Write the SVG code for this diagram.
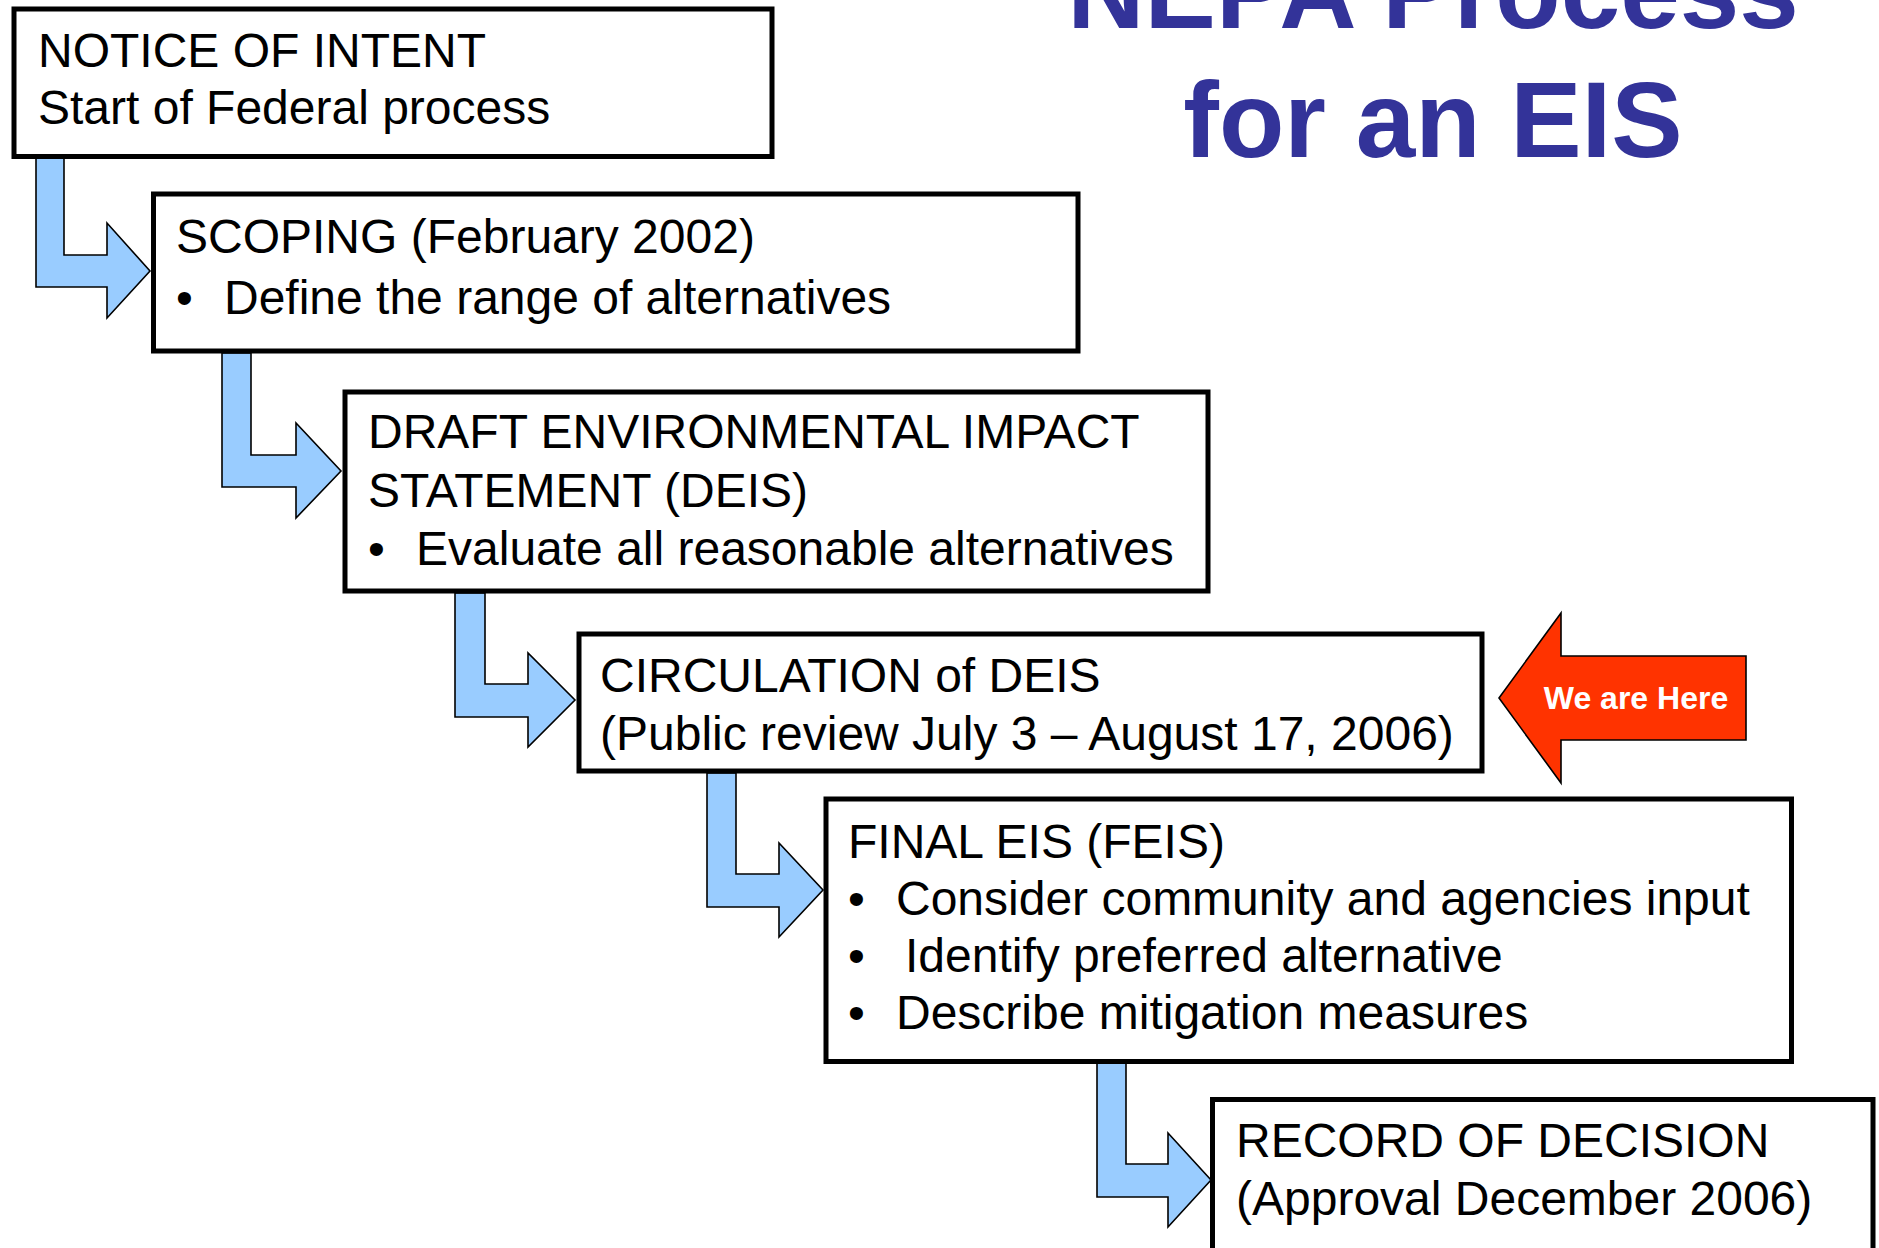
<svg xmlns="http://www.w3.org/2000/svg" width="1879" height="1248" viewBox="0 0 1879 1248">
<style>
.box{fill:#fff;stroke:#000;stroke-width:5}
.t{font-family:"Liberation Sans",Arial,sans-serif;font-size:48px;fill:#000}
.flow{fill:#99CCFF;stroke:#000;stroke-width:1.6;stroke-linejoin:miter}
.title{font-family:"Liberation Sans",Arial,sans-serif;font-size:107px;font-weight:bold;fill:#333399;text-anchor:middle}
</style>
<rect width="1879" height="1248" fill="#fff"/>
<g id="title">
<text class="title" x="1433" y="28">NEPA Process</text>
<text class="title" x="1433" y="157">for an EIS</text>
</g>
<g id="connectors">
<path class="flow" d="M36,157 L64,157 L64,255 L107,255 L107,223 L150,271 L107,318 L107,287 L36,287 Z"/>
<path class="flow" d="M222,353 L251,353 L251,455 L296,455 L296,423 L341,471 L296,518 L296,487 L222,487 Z"/>
<path class="flow" d="M455,593 L485,593 L485,684 L528,684 L528,653 L575,700 L528,747 L528,717 L455,717 Z"/>
<path class="flow" d="M707,773 L736,773 L736,874 L779,874 L779,843 L823,890 L779,937 L779,907 L707,907 Z"/>
<path class="flow" d="M1097,1062 L1126,1062 L1126,1164 L1168,1164 L1168,1133 L1211,1180 L1168,1227 L1168,1197 L1097,1197 Z"/>
</g>
<g id="notice-of-intent">
<rect class="box" x="14" y="9" width="758" height="147.5"/>
<text class="t" x="38" y="67">NOTICE OF INTENT</text>
<text class="t" x="38" y="124">Start of Federal process</text>
</g>
<g id="scoping">
<rect class="box" x="153.5" y="194" width="924.5" height="157"/>
<text class="t" x="176" y="253">SCOPING (February 2002)</text>
<text class="t" x="176" y="314">•</text>
<text class="t" x="224" y="314">Define the range of alternatives</text>
</g>
<g id="deis">
<rect class="box" x="345" y="392" width="863" height="199"/>
<text class="t" x="368" y="448">DRAFT ENVIRONMENTAL IMPACT</text>
<text class="t" x="368" y="507">STATEMENT (DEIS)</text>
<text class="t" x="368" y="565">•</text>
<text class="t" x="416" y="565">Evaluate all reasonable alternatives</text>
</g>
<g id="circulation">
<rect class="box" x="579" y="634" width="903" height="137"/>
<text class="t" x="600" y="692">CIRCULATION of DEIS</text>
<text class="t" x="600" y="750">(Public review July 3 – August 17, 2006)</text>
</g>
<g id="feis">
<rect class="box" x="826" y="799" width="965.5" height="262.5"/>
<text class="t" x="848" y="858">FINAL EIS (FEIS)</text>
<text class="t" x="848" y="915">•</text>
<text class="t" x="896" y="915">Consider community and agencies input</text>
<text class="t" x="848" y="972">•</text>
<text class="t" x="905" y="972">Identify preferred alternative</text>
<text class="t" x="848" y="1029">•</text>
<text class="t" x="896" y="1029">Describe mitigation measures</text>
</g>
<g id="record-of-decision">
<rect class="box" x="1212.5" y="1099.5" width="660.5" height="200"/>
<text class="t" x="1236" y="1157">RECORD OF DECISION</text>
<text class="t" x="1236" y="1215">(Approval December 2006)</text>
</g>
<g id="we-are-here">
<path d="M1499,698 L1561,613 L1561,656 L1746,656 L1746,740 L1561,740 L1561,783 Z" fill="#FF3300" stroke="#000" stroke-width="1.6"/>
<text x="1636" y="709" font-family="'Liberation Sans',Arial,sans-serif" font-size="32" font-weight="bold" fill="#fff" text-anchor="middle">We are Here</text>
</g>
</svg>
